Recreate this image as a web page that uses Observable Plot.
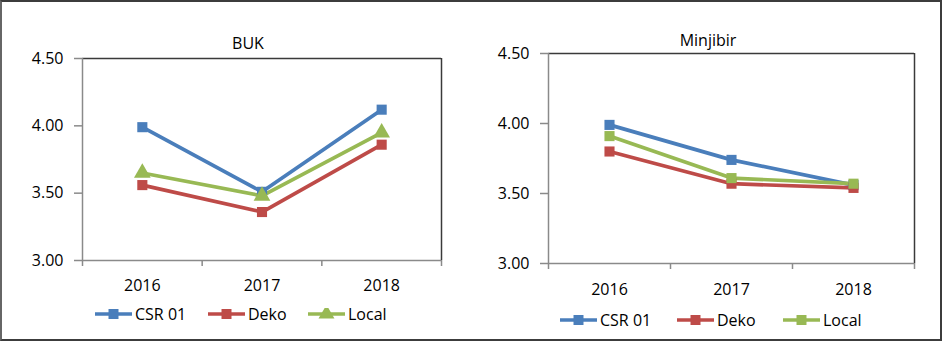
<!DOCTYPE html>
<html>
<head>
<meta charset="utf-8">
<script src="https://cdn.jsdelivr.net/npm/d3@7"></script>
<script src="https://cdn.jsdelivr.net/npm/@observablehq/plot@0.6"></script>
<style>
  html, body { margin: 0; padding: 0; background: #fff; }
  body { width: 942px; height: 342px; position: relative; overflow: hidden; font-family: "Open Sans", "Liberation Sans", sans-serif; }
  #frame { position: absolute; left: 0; top: 0; width: 942px; height: 341px; box-sizing: border-box; border: 2px solid #3c3c3c; border-left-color: #666; }
  .panel { position: absolute; top: 0; }
  .title { position: absolute; font-size: 16px; color: #000; transform: translateX(-50%); white-space: nowrap; }
  .leg { position: absolute; display: flex; align-items: center; font-size: 16px; color: #000; white-space: nowrap; }
  .leg svg { display: block; margin-right: 3px; }
</style>
</head>
<body>
<div id="frame"></div>
<script>
// ---- data ----
const years = ["2016", "2017", "2018"];
const seriesNames = ["CSR 01", "Deko", "Local"];
const seriesColors = ["#4A7EBB", "#BE4B48", "#98B954"];
const yTicks = [3.0, 3.5, 4.0, 4.5];

const bukCSR01 = [3.99, 3.51, 4.12];
const bukDeko  = [3.56, 3.36, 3.86];
const bukLocal = [3.65, 3.48, 3.95];

const minCSR01 = [3.99, 3.74, 3.56];
const minDeko  = [3.80, 3.57, 3.54];
const minLocal = [3.91, 3.61, 3.57];

const bukSymbols = ["square", "square", "triangle"];
const minSymbols = ["square", "square", "square"];

function rows(seriesValues) {
  const out = [];
  seriesValues.forEach((vals, s) => {
    vals.forEach((v, i) => out.push({series: seriesNames[s], idx: i + 0.5, year: years[i], value: v}));
  });
  return out;
}

function makePanel(opts) {
  const data = rows(opts.values);
  const fs = 16;
  const marks = [
    Plot.ruleY([yTicks[yTicks.length - 1]], {stroke: "#3a3a3a", strokeWidth: 1.5}),
    Plot.ruleX([years.length], {stroke: "#3a3a3a", strokeWidth: 1.5}),
    Plot.ruleX([0], {stroke: "#8a8a8a", strokeWidth: 1.5}),
    Plot.ruleY([yTicks[0]], {stroke: "#8a8a8a", strokeWidth: 1.5}),
    Plot.axisY({ticks: yTicks, tickFormat: d3.format(".2f"), tickSize: 8, tickPadding: 11, stroke: "#8a8a8a", strokeWidth: 1.5, fontSize: fs, fill: "#000", label: null}),
    Plot.axisX({ticks: d3.range(years.length + 1), tickFormat: () => "", tickSize: 6, stroke: "#8a8a8a", strokeWidth: 1.5, label: null}),
    Plot.axisX({ticks: years.map((d, i) => i + 0.5), tickFormat: (d) => years[Math.floor(d)], tickSize: 0, tickPadding: opts.labelPad, fontSize: fs, fill: "#000", label: null})
  ];
  seriesNames.forEach((name, s) => {
    const sd = data.filter(d => d.series === name);
    marks.push(Plot.line(sd, {x: "idx", y: "value", stroke: seriesColors[s], strokeWidth: 3.7}));
  });
  seriesNames.forEach((name, s) => {
    const sd = data.filter(d => d.series === name);
    marks.push(Plot.dot(sd, {x: "idx", y: "value", symbol: opts.symbols[s], r: opts.symbols[s] === "triangle" ? 6.2 : 5.7, fill: seriesColors[s], stroke: "none"}));
  });
  return Plot.plot({
    width: opts.width,
    height: 342,
    marginLeft: opts.ml,
    marginRight: opts.mr,
    marginTop: opts.mt,
    marginBottom: opts.mb,
    style: {fontFamily: "'Open Sans', 'Liberation Sans', sans-serif", fontSize: "16px", background: "transparent", overflow: "visible"},
    x: {type: "linear", domain: [0, years.length], axis: null},
    y: {domain: [yTicks[0], yTicks[yTicks.length - 1]], axis: null},
    marks
  });
}

function addPanel(left, opts) {
  const wrap = document.createElement("div");
  wrap.className = "panel";
  wrap.style.left = left + "px";
  wrap.appendChild(makePanel(opts));
  document.body.appendChild(wrap);

  const t = document.createElement("div");
  t.className = "title";
  t.textContent = opts.title;
  t.style.left = opts.titleX + "px";
  t.style.top = opts.titleY + "px";
  document.body.appendChild(t);

  seriesNames.forEach((name, s) => {
    const item = document.createElement("div");
    item.className = "leg";
    item.style.left = opts.legX[s] + "px";
    item.style.top = opts.legY + "px";
    const sw = d3.create("svg").attr("width", 37).attr("height", 12);
    sw.append("line").attr("x1", 0).attr("x2", 37).attr("y1", 6).attr("y2", 6)
      .attr("stroke", seriesColors[s]).attr("stroke-width", 3.7);
    const sym = d3.symbol(opts.symbols[s] === "triangle" ? d3.symbolTriangle : d3.symbolSquare, opts.symbols[s] === "triangle" ? 110 : 100)();
    sw.append("path").attr("d", sym).attr("transform", "translate(18.5,6)").attr("fill", seriesColors[s]);
    item.appendChild(sw.node());
    const lab = document.createElement("span");
    lab.textContent = name;
    item.appendChild(lab);
    document.body.appendChild(item);
  });
}

addPanel(0, {
  title: "BUK", titleX: 248, titleY: 32,
  width: 470, ml: 82, mr: 29, mt: 58, mb: 82, labelPad: 19,
  values: [bukCSR01, bukDeko, bukLocal], symbols: bukSymbols,
  legX: [95, 208, 308], legY: 303
});

addPanel(470, {
  title: "Minjibir", titleX: 708, titleY: 29,
  width: 472, ml: 78, mr: 28, mt: 53, mb: 79, labelPad: 20,
  values: [minCSR01, minDeko, minLocal], symbols: minSymbols,
  legX: [560, 677, 783], legY: 309
});
</script>
</body>
</html>
